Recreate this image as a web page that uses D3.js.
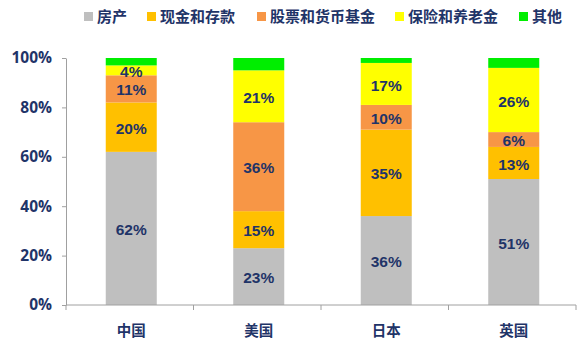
<!DOCTYPE html>
<html><head><meta charset="utf-8">
<script src="https://cdn.jsdelivr.net/npm/d3@7"></script>
<style>
body{margin:0;background:#fff;}
text{font-family:"Noto Sans CJK SC","Open Sans",sans-serif;font-weight:bold;}
</style></head>
<body><svg id="c" width="582" height="355"></svg>
<script>
const categories = ["中国","美国","日本","英国"];
const seriesNames = ["房产","现金和存款","股票和货币基金","保险和养老金","其他"];
const seriesColors = ["#bfbfbf","#ffc000","#f79646","#ffff00","#00ee00"];
const realEstate = [62,23,36,51];
const cash = [20,15,35,13];
const stocks = [11,36,10,6];
const insurance = [4,21,17,26];
const other = [3,5,2,4];
const yTicks = [0,20,40,60,80,100];
const showLabel = [true,true,true,true,false];

const seriesValues = [realEstate,cash,stocks,insurance,other];
const svg = d3.select("#c");
const navy = "#1f3468";
const x = d3.scaleBand().domain(categories).range([67.5,577.5]).paddingInner(0.6).paddingOuter(0.3);
const y = d3.scaleLinear().domain([0,100]).range([305,58]);

const rows = categories.map((c,i)=>{const o={cat:c};seriesNames.forEach((s,j)=>o[s]=seriesValues[j][i]);return o;});
const stack = d3.stack().keys(seriesNames)(rows);

const g = svg.append("g");
stack.forEach((layer,j)=>{
  g.selectAll(null).data(layer).enter().append("rect")
   .attr("x",d=>x(d.data.cat)).attr("width",x.bandwidth())
   .attr("y",d=>y(d[1])).attr("height",d=>y(d[0])-y(d[1]))
   .attr("fill",seriesColors[j]);
  if(showLabel[j]){
    g.selectAll(null).data(layer).enter().append("text")
     .attr("x",d=>x(d.data.cat)+x.bandwidth()/2)
     .attr("y",d=>(y(d[0])+y(d[1]))/2+1)
     .attr("dy","0.36em").attr("text-anchor","middle")
     .attr("font-size",15.5).attr("fill",navy)
     .style("font-family","'Liberation Sans',Arial,sans-serif")
     .text(d=>(d[1]-d[0])+"%");
  }
});

// y axis
const ya = svg.append("g").attr("transform","translate(66,0)")
  .call(d3.axisLeft(y).tickValues(yTicks).tickFormat(d=>d+"%").tickSizeInner(4).tickSizeOuter(0).tickPadding(10));
ya.select(".domain").attr("stroke","#a0a0a0");
ya.selectAll(".tick line").attr("stroke","#a0a0a0");
ya.selectAll("text").attr("font-size",15.5).attr("fill",navy).style("font-family","'Open Sans',sans-serif").style("font-weight","bold");

// x axis with boundary ticks
const xa = svg.append("g").attr("transform","translate(0,305)");
xa.append("line").attr("x1",66).attr("x2",576).attr("stroke","#a0a0a0");
const bounds = d3.range(categories.length+1).map(i=>66+i*(576-66)/categories.length);
xa.selectAll(null).data(bounds).enter().append("line")
  .attr("x1",d=>d).attr("x2",d=>d).attr("y1",0).attr("y2",5).attr("stroke","#a0a0a0");
xa.selectAll(null).data(categories).enter().append("text")
  .attr("x",d=>x(d)+x.bandwidth()/2).attr("y",26).attr("dy","0.35em")
  .attr("text-anchor","middle").attr("font-size",14.5).attr("fill",navy).text(d=>d);

// legend
const legX = [84,147,257,395,519];
const leg = svg.append("g");
seriesNames.forEach((s,j)=>{
  leg.append("rect").attr("x",legX[j]).attr("y",12).attr("width",9).attr("height",9).attr("fill",seriesColors[j]);
  leg.append("text").attr("x",legX[j]+13).attr("y",16.5).attr("dy","0.35em")
     .attr("font-size",15).attr("fill",navy).text(s);
});
</script></body></html>
